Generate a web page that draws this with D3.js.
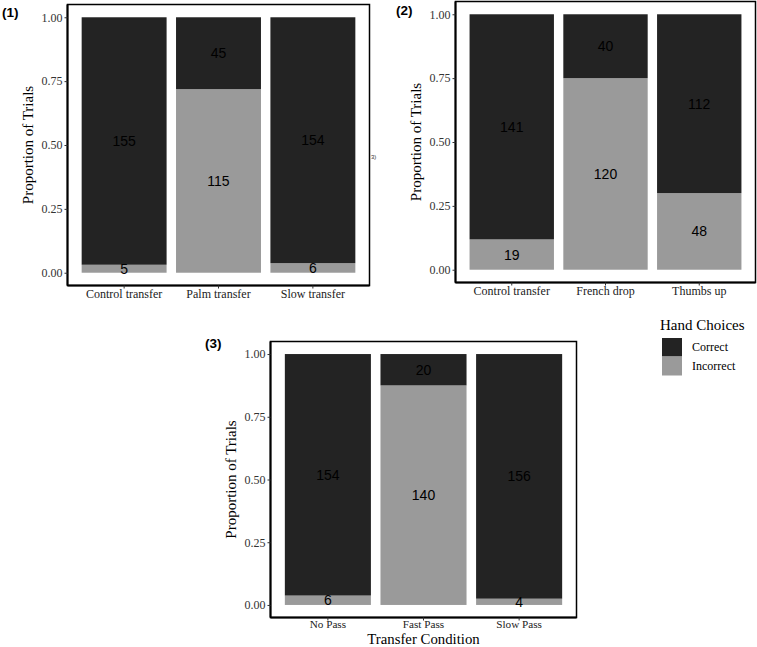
<!DOCTYPE html>
<html><head><meta charset="utf-8">
<script src="https://cdn.jsdelivr.net/npm/d3@7"></script>
<style>body{margin:0;background:#fff}svg{display:block}</style>
</head><body>
<svg id="c" width="757" height="647"></svg>
<script>
// ---- data ----
const categories1 = ["Control transfer", "Palm transfer", "Slow transfer"];
const correct1 = [155, 45, 154];
const incorrect1 = [5, 115, 6];

const categories2 = ["Control transfer", "French drop", "Thumbs up"];
const correct2 = [141, 40, 112];
const incorrect2 = [19, 120, 48];

const categories3 = ["No Pass", "Fast Pass", "Slow Pass"];
const correct3 = [154, 20, 156];
const incorrect3 = [6, 140, 4];

const yTicks = [0, 0.25, 0.5, 0.75, 1];
const legendLabels = ["Correct", "Incorrect"];
const panelLabels = ["(1)", "(2)", "(3)"];

// ---- layout ----
const colors = {Correct: "#232323", Incorrect: "#9a9a9a"};
const serif = "Liberation Serif";
const sans = "Liberation Sans";
const svg = d3.select("#c");

const panels = [
  {cats: categories1, cor: correct1, inc: incorrect1, label: panelLabels[0],
   x0: 67.5, x1: 369.5, y0: 4.5, y1: 285.5, lx: 2, ly: 17, xtitle: null, tickFs: 12, tickPad: 1},
  {cats: categories2, cor: correct2, inc: incorrect2, label: panelLabels[1],
   x0: 455.5, x1: 755.5, y0: 1.5, y1: 282.5, lx: 396, ly: 15, xtitle: null, tickFs: 12, tickPad: 1},
  {cats: categories3, cor: correct3, inc: incorrect3, label: panelLabels[2],
   x0: 270.5, x1: 576.5, y0: 341.5, y1: 617.5, lx: 205, ly: 348, xtitle: "Transfer Condition", tickFs: 11.2, tickPad: 0}
];

panels.forEach(p => {
  const g = svg.append("g");
  const x = d3.scaleBand().domain(p.cats).range([p.x0, p.x1]).paddingInner(0.1).paddingOuter(0.15);
  const y = d3.scaleLinear().domain([-0.05, 1.05]).range([p.y1, p.y0]);

  const rows = p.cats.map((c, i) => {
    const tot = p.cor[i] + p.inc[i];
    return {cat: c, inc: p.inc[i] / tot, cor: p.cor[i] / tot, nInc: p.inc[i], nCor: p.cor[i]};
  });
  const stack = d3.stack().keys(["inc", "cor"])(rows);
  const keyName = {inc: "Incorrect", cor: "Correct"};
  const countKey = {inc: "nInc", cor: "nCor"};

  stack.forEach(layer => {
    g.selectAll(null).data(layer).enter().append("rect")
      .attr("x", d => x(d.data.cat))
      .attr("width", x.bandwidth())
      .attr("y", d => y(d[1]))
      .attr("height", d => y(d[0]) - y(d[1]))
      .attr("fill", colors[keyName[layer.key]]);
  });
  stack.forEach(layer => {
    g.selectAll(null).data(layer).enter().append("text")
      .attr("x", d => x(d.data.cat) + x.bandwidth() / 2)
      .attr("y", d => y((d[0] + d[1]) / 2))
      .attr("dy", "0.36em")
      .attr("text-anchor", "middle")
      .style("font-family", sans).style("font-size", "14px")
      .attr("fill", "#000")
      .text(d => d.data[countKey[layer.key]]);
  });

  // frame
  g.append("rect").attr("x", p.x0).attr("y", p.y0)
    .attr("width", p.x1 - p.x0).attr("height", p.y1 - p.y0)
    .attr("fill", "none").attr("stroke", "#000").attr("stroke-width", 1.5);

  // y axis
  const ya = g.append("g").attr("transform", `translate(${p.x0},0)`)
    .call(d3.axisLeft(y).tickValues(yTicks).tickFormat(d3.format(".2f")).tickSize(3).tickPadding(2));
  ya.select(".domain").attr("stroke-width", 2).attr("d", `M0,${p.y0}V${p.y1}`);
  ya.attr("font-family", null).attr("font-size", null);
  ya.selectAll("text").style("font-family", serif).style("font-size", "12px").attr("fill", "#333");
  ya.selectAll(".tick line").attr("stroke", "#333");

  // x axis
  const xa = g.append("g").attr("transform", `translate(0,${p.y1})`)
    .call(d3.axisBottom(x).tickSize(3).tickPadding(p.tickPad));
  xa.select(".domain").attr("stroke-width", 2).attr("d", `M${p.x0},0H${p.x1}`);
  xa.attr("font-family", null).attr("font-size", null);
  xa.selectAll("text").style("font-family", serif).style("font-size", p.tickFs + "px").attr("fill", "#222");
  xa.selectAll(".tick line").attr("stroke", "#333");

  // y title
  g.append("text")
    .attr("transform", `translate(${p.x0 - 40},${y(0.5)}) rotate(-90)`)
    .attr("text-anchor", "middle").attr("dy", "0.35em")
    .style("font-family", serif).style("font-size", "15px").attr("fill", "#000")
    .text("Proportion of Trials");

  if (p.xtitle) {
    g.append("text").attr("x", (p.x0 + p.x1) / 2).attr("y", 643.6)
      .attr("text-anchor", "middle")
      .style("font-family", serif).style("font-size", "14.8px").attr("fill", "#000")
      .text(p.xtitle);
  }

  // panel label
  g.append("text").attr("x", p.lx).attr("y", p.ly)
    .style("font-family", sans).style("font-weight", "bold").style("font-size", "13.5px")
    .attr("fill", "#000").text(p.label);
});

// stray fragment text
svg.append("text").attr("x", 371).attr("y", 159)
  .style("font-family", sans).style("font-size", "6px").attr("fill", "#333").text("3)");

// legend
const lg = svg.append("g");
lg.append("text").attr("x", 660).attr("y", 330)
  .style("font-family", serif).style("font-size", "15px").attr("fill", "#000").text("Hand Choices");
legendLabels.forEach((k, i) => {
  lg.append("rect").attr("x", 662).attr("y", 338 + i * 19)
    .attr("width", 20).attr("height", 18.5).attr("fill", colors[k]);
  lg.append("text").attr("x", 692).attr("y", 347 + i * 19).attr("dy", "0.35em")
    .style("font-family", serif).style("font-size", "12px").attr("fill", "#000").text(k);
});
</script>
</body></html>
